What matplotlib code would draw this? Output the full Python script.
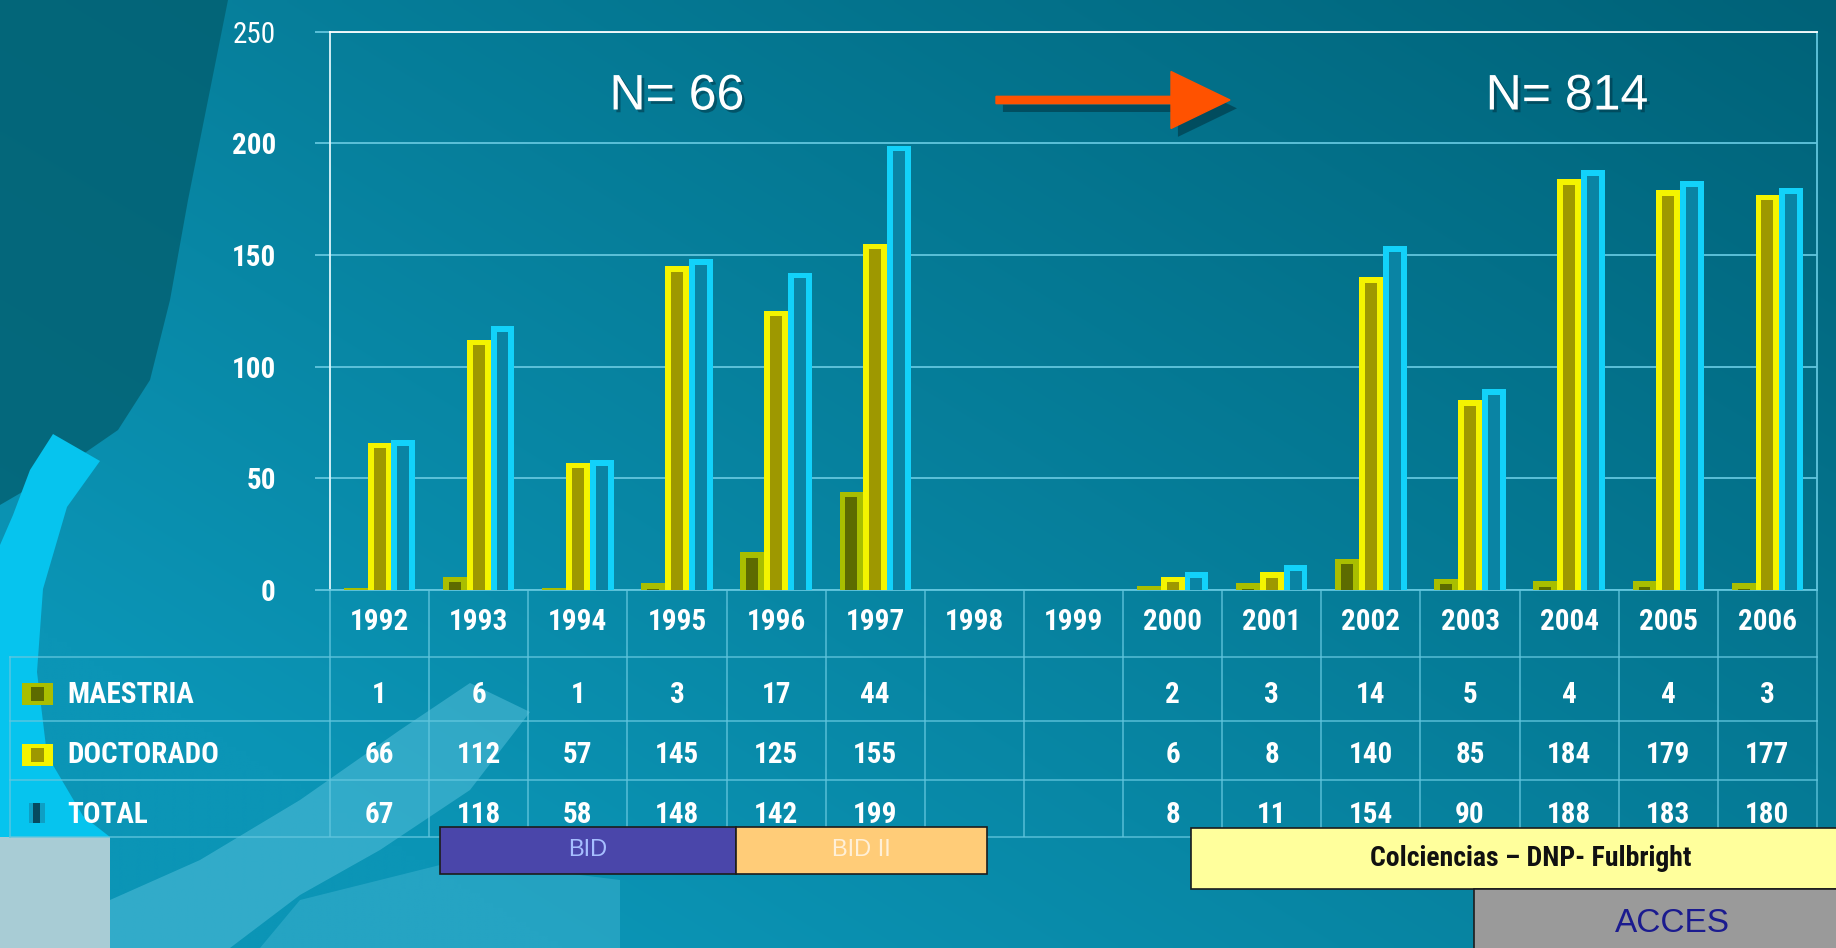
import numpy as np
import matplotlib
matplotlib.use("Agg")
import matplotlib.pyplot as plt
import matplotlib.patheffects as pe
from matplotlib.patches import Polygon, Rectangle, FancyArrow
from matplotlib.transforms import blended_transform_factory

W, H = 1836, 948

YEARS = ["1992", "1993", "1994", "1995", "1996", "1997", "1998", "1999",
         "2000", "2001", "2002", "2003", "2004", "2005", "2006"]
MAESTRIA = [1, 6, 1, 3, 17, 44, None, None, 2, 3, 14, 5, 4, 4, 3]
DOCTORADO = [66, 112, 57, 145, 125, 155, None, None, 6, 8, 140, 85, 184, 179, 177]
TOTAL = [67, 118, 58, 148, 142, 199, None, None, 8, 11, 154, 90, 188, 183, 180]
ROW_LABELS = ["MAESTRIA", "DOCTORADO", "TOTAL"]
Y_TICKS = [0, 50, 100, 150, 200, 250]
N_LEFT = "N= 66"
N_RIGHT = "N= 814"

NARROW = ["Roboto Condensed", "Liberation Sans", "DejaVu Sans"]
ARIAL = ["Liberation Sans", "DejaVu Sans"]

# colours: (bright edge, dark core)
C_MAE = ("#a9be00", "#5d6b00")
C_DOC = ("#f4f400", "#9e9800")
C_TOT = ("#12d2fa", "#0a84a4")
GRID = "#62c6de"

fig = plt.figure(figsize=(W / 100, H / 100), dpi=100)

# ---- background (pixel coordinates, y down) ----
bg = fig.add_axes([0, 0, 1, 1])
bg.set_xlim(0, W)
bg.set_ylim(H, 0)
bg.axis("off")

yy, xx = np.mgrid[0:1:200j, 0:1:400j]
t = np.clip(0.65 * xx + 0.55 * (1 - yy) - 0.2, 0, 1)[..., None]
light = np.array([0x0b, 0x95, 0xb6]) / 255
dark = np.array([0x00, 0x62, 0x78]) / 255
bg.imshow(light * (1 - t) + dark * t, extent=(0, W, H, 0), aspect="auto",
          interpolation="bilinear", zorder=0)

bg.add_patch(Polygon([(0, 0), (228, 0), (208, 100), (188, 200), (170, 300),
                      (150, 380), (118, 430), (60, 470), (0, 505)],
                     closed=True, fc="#035f70", ec="none", alpha=0.8, zorder=1))
bg.add_patch(Polygon([(53, 434), (30, 470), (13, 515), (0, 545), (0, 837), (110, 837),
                      (83, 816), (47, 755), (37, 672), (43, 589), (67, 507), (100, 461)],
                     closed=True, fc="#06c4ee", ec="none", zorder=1))
bg.add_patch(Rectangle((0, 837), 110, 111, fc="#a8ccd5", ec="none", zorder=1))
bg.add_patch(Polygon([(470, 683), (530, 712), (470, 790), (380, 850), (300, 895),
                      (230, 948), (110, 948), (110, 900), (200, 860), (300, 800),
                      (400, 730)],
                     closed=True, fc="#62c8e2", ec="none", alpha=0.45, zorder=1))
bg.add_patch(Polygon([(300, 900), (460, 860), (620, 880), (620, 948), (260, 948)],
                     closed=True, fc="#62c8e2", ec="none", alpha=0.3, zorder=1))

# ---- chart ----
L, R, Y0, YTOP = 330, 1817, 590, 31.6
ax = fig.add_axes([L / W, 1 - Y0 / H, (R - L) / W, (Y0 - YTOP) / H])
ax.patch.set_visible(False)
ax.set_xlim(-0.5, len(YEARS) - 0.5)
ax.set_ylim(0, 250)

x = np.arange(len(YEARS))
bw = 0.24


def draw_series(vals, offset, colors):
    v = np.array(vals, dtype=float)
    ax.bar(x + offset, v, bw, color=colors[0], zorder=3)
    ax.bar(x + offset, np.clip(v - 2.5, 0, None), bw * 0.5, color=colors[1], zorder=4)


draw_series(MAESTRIA, -bw, C_MAE)
draw_series(DOCTORADO, 0, C_DOC)
draw_series(TOTAL, bw, C_TOT)

ax.set_yticks(Y_TICKS)
ax.set_xticks([])
ax.yaxis.grid(True, color=GRID, lw=1.3)
ax.set_axisbelow(True)
ax.tick_params(axis="y", length=11, width=1.3, color=GRID, pad=28,
               labelsize=21, labelcolor="white")
for lab in ax.get_yticklabels():
    lab.set_fontfamily(NARROW)
    lab.set_fontweight("normal" if lab.get_text() == "250" else "bold")
ax.spines["top"].set_color("white")
ax.spines["left"].set_color("#dff6fb")
ax.spines["bottom"].set_color(GRID)
ax.spines["right"].set_color(GRID)
for s in ax.spines.values():
    s.set_linewidth(1.3)

# ---- table under the chart ----
tr = blended_transform_factory(ax.transData, bg.transData)
row_lines = [657, 721, 780, 837]
bg.vlines(np.arange(len(YEARS) + 1) - 0.5, Y0, row_lines[-1], transform=tr,
          color=GRID, lw=1.2, alpha=0.8, zorder=2)
for yl in row_lines:
    bg.plot([10, R], [yl, yl], color=GRID, lw=1.2, alpha=0.8, zorder=2)
bg.plot([10, 10], [row_lines[0], row_lines[-1]], color=GRID, lw=1.2, alpha=0.8, zorder=2)

txt = dict(color="white", fontsize=21, fontweight="bold", family=NARROW, zorder=3)
for i, yr in enumerate(YEARS):
    bg.text(i, 630.5, yr, transform=tr, ha="center", va="baseline", **txt)

baselines = [703, 763, 823]
for row, vals in zip(baselines, [MAESTRIA, DOCTORADO, TOTAL]):
    for i, v in enumerate(vals):
        if v is not None:
            bg.text(i, row, str(v), transform=tr, ha="center", va="baseline", **txt)

for row, lab in zip(baselines, ROW_LABELS):
    bg.text(67, row, lab, ha="left", va="baseline", **txt)

# legend swatches
for (top, cols) in [(683, C_MAE), (744, C_DOC)]:
    bg.add_patch(Rectangle((22, top), 31, 22, fc=cols[0], ec="none", zorder=3))
    bg.add_patch(Rectangle((31, top + 4), 13, 14, fc=cols[1], ec="none", zorder=3))
bg.add_patch(Rectangle((29, 803), 16, 20, fc="#0e9fc4", ec="none", zorder=3))
bg.add_patch(Rectangle((33, 803), 7, 20, fc="#064a60", ec="none", zorder=3))

# ---- programme boxes ----
boxes = [
    ((440, 827), 296, 47, "#4a46aa", "BID", "#a6beff", 17, "normal", ARIAL),
    ((736, 827), 251, 47, "#ffcc78", "BID II", "#fff0d8", 17, "normal", ARIAL),
    ((1191, 828), 700, 61, "#ffff9c", "Colciencias \u2013 DNP- Fulbright", "#111111", 20,
     "bold", NARROW),
    ((1474, 889), 400, 70, "#9a9a9a", "ACCES", "#1b1b8f", 24, "normal", ARIAL),
]
for (x0, y0), bwid, bh, fc, label, tc, fs, fw, fam in boxes:
    bg.add_patch(Rectangle((x0, y0), bwid, bh, fc=fc, ec="#1c1c1c", lw=1.2, zorder=4))
    cx = x0 + bwid / 2 if x0 + bwid < W else (x0 + W) / 2 + 17
    bg.text(cx, y0 + bh / 2, label, ha="center", va="center", color=tc,
            fontsize=fs, fontweight=fw, family=fam, zorder=5)

# ---- headline annotations ----
shadow = [pe.withSimplePatchShadow(offset=(2, -2), shadow_rgbFace="#003040", alpha=0.5)]
bg.text(677, 109.5, N_LEFT, ha="center", va="baseline", color="white", fontsize=36,
        family=ARIAL, zorder=5, path_effects=shadow)
bg.text(1567, 109.5, N_RIGHT, ha="center", va="baseline", color="white", fontsize=36,
        family=ARIAL, zorder=5, path_effects=shadow)
arrow = FancyArrow(996, 100, 234, 0, width=7.3, head_width=57, head_length=59,
                   length_includes_head=True, color="#ff5200", zorder=5)
arrow.set_path_effects([pe.withSimplePatchShadow(offset=(5, -6), shadow_rgbFace="#00303c",
                                                 alpha=0.55)])
bg.add_patch(arrow)

fig.savefig("out.png", dpi=100)
